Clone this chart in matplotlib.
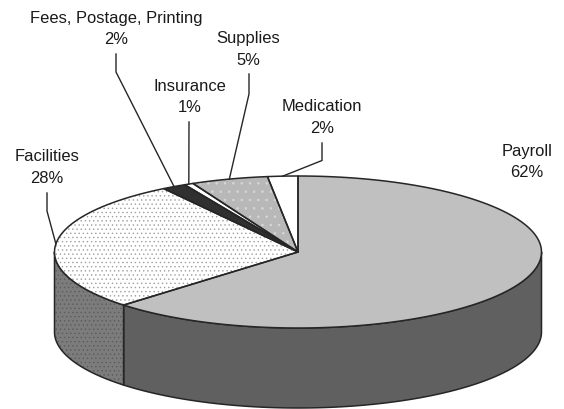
import numpy as np
import matplotlib
matplotlib.use('Agg')
import matplotlib.pyplot as plt
from matplotlib.patches import Polygon

categories = ['Payroll', 'Facilities', 'Fees, Postage, Printing', 'Insurance', 'Supplies', 'Medication']
values = [62.7, 28.0, 1.6, 0.6, 5.1, 2.0]
pct_labels = ['62%', '28%', '2%', '1%', '5%', '2%']

plt.rcParams['font.family'] = ['Liberation Sans', 'DejaVu Sans']
plt.rcParams['hatch.linewidth'] = 0.5

CX, CY, A, B, DEPTH = 298, 253, 243.5, 76, 80
W, H = 564, 410
fig = plt.figure(figsize=(W / 100, H / 100), dpi=100)
ax = fig.add_axes([0, 0, 1, 1])
ax.set_xlim(0, W)
ax.set_ylim(H, 0)
ax.axis('off')

def pt(theta, dy=0):
    theta = np.asarray(theta)
    return np.column_stack([CX + A * np.sin(theta), CY - B * np.cos(theta) + dy])

EDGE = '#262626'
LW = 1.1
top_style = [
    ('#c0c0c0', None, None),
    ('#ffffff', '#a0a0a0', '....'),
    ('#303030', None, None),
    ('#ffffff', None, None),
    ('#b8b8b8', '#d8d8d8', '..'),
    ('#ffffff', None, None),
]
side_style = {0: ('#606060', None, None), 1: ('#7c7c7c', '#5c5c5c', '....')}

def draw(poly, face, hcol, hatch, z):
    if hatch:
        ax.add_patch(Polygon(poly, closed=True, facecolor=face, edgecolor=hcol, hatch=hatch, lw=0, zorder=z))
    else:
        ax.add_patch(Polygon(poly, closed=True, facecolor=face, edgecolor='none', zorder=z))
    ax.add_patch(Polygon(poly, closed=True, fill=False, edgecolor=EDGE, lw=LW, zorder=z + 0.5, joinstyle='round'))

fracs = np.cumsum([0] + values) / np.sum(values) * 2 * np.pi
mids = []
for i, (s, e) in enumerate(zip(fracs[:-1], fracs[1:])):
    mids.append((s + e) / 2)
    lo, hi = max(s, np.pi / 2), min(e, 3 * np.pi / 2)
    if hi > lo and i in side_style:
        t = np.linspace(lo, hi, 120)
        wall = np.vstack([pt(t), pt(t[::-1], DEPTH)])
        draw(wall, *side_style[i], 2)
for i, (s, e) in enumerate(zip(fracs[:-1], fracs[1:])):
    t = np.linspace(s, e, 120)
    poly = np.vstack([[CX, CY], pt(t)])
    draw(poly, *top_style[i], 3)

label_pos = {
    0: (527, 162), 1: (47, 167.5), 2: (116, 29), 3: (190, 97), 4: (248.5, 49.5), 5: (322, 117.5),
}
leaders = {
    1: [(47, 194), (47, 212)],
    2: [(116, 55), (116, 73)],
    3: [(189, 123)],
    4: [(249, 75), (249, 95)],
    5: [(322, 144), (322, 161.5)],
}
for i, c in enumerate(categories):
    x, y = label_pos[i]
    ax.text(x, y, f'{c}\n{pct_labels[i]}', ha='center', va='center', fontsize=11.9,
            color='#1a1a1a', linespacing=1.55, zorder=6)
    if i in leaders:
        end = pt([mids[i]])[0]
        p = np.array(leaders[i] + [tuple(end)])
        ax.plot(p[:, 0], p[:, 1], color=EDGE, lw=1.0, zorder=5)

fig.savefig('out.png', dpi=100)
